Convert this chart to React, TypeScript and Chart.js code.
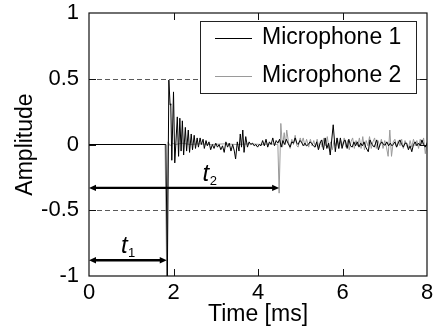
import React, { useEffect, useRef } from 'react';
import { Chart, registerables } from 'chart.js';

Chart.register(...registerables);

const FONT = '"Liberation Sans", Arial, Helvetica, sans-serif';

const xTickValues = [0, 2, 4, 6, 8];
const xTickLabels = ['0', '2', '4', '6', '8'];
const yTickValues = [-1, -0.5, 0, 0.5, 1];
const yTickLabels = ['-1', '-0.5', '0', '0.5', '1'];
const xTitle = 'Time [ms]';
const yTitle = 'Amplitude';
const seriesNames = ['Microphone 1', 'Microphone 2'];
const seriesColors = ['#000000', '#9a9a9a'];

const mic1Time = [
  0, 1.82, 1.855, 1.89, 1.92, 1.935, 1.96, 2.0, 2.03, 2.09,
  2.12, 2.15, 2.18, 2.21, 2.24, 2.28, 2.31, 2.35, 2.38, 2.42,
  2.45, 2.49, 2.52, 2.56, 2.59, 2.63, 2.66, 2.7, 2.73, 2.77,
  2.8, 2.84, 2.88, 2.92, 2.96, 3.0, 3.04, 3.08, 3.12, 3.16,
  3.2, 3.24, 3.28, 3.32, 3.36, 3.4, 3.44, 3.47, 3.51, 3.55,
  3.58, 3.61, 3.64, 3.67, 3.71, 3.75, 3.79, 3.83, 3.87, 3.91,
  3.95, 3.99, 4.03, 4.07, 4.11, 4.15, 4.19, 4.23, 4.27, 4.31,
  4.35, 4.39, 4.43, 4.47, 4.51, 4.55, 4.59, 4.63, 4.67, 4.71,
  4.76, 4.8, 4.84, 4.88, 4.92, 4.95, 4.99, 5.03, 5.07, 5.11,
  5.15, 5.19, 5.23, 5.27, 5.31, 5.35, 5.39, 5.43, 5.47, 5.51,
  5.55, 5.59, 5.63, 5.67, 5.71, 5.78, 5.83, 5.87, 5.91, 5.95,
  5.99, 6.03, 6.06, 6.11, 6.15, 6.19, 6.23, 6.27, 6.31, 6.35,
  6.39, 6.43, 6.47, 6.51, 6.55, 6.61, 6.65, 6.7, 6.75, 6.81,
  6.85, 6.89, 6.93, 6.97, 7.01, 7.05, 7.09, 7.13, 7.17, 7.2,
  7.24, 7.28, 7.32, 7.36, 7.4, 7.44, 7.48, 7.52, 7.56, 7.6,
  7.64, 7.68, 7.72, 7.76, 7.8, 7.84, 7.88, 7.92, 7.96, 8.0,
];
const mic1Amp = [
  0, 0, -1.0, 0.49, 0.3, 0.31, -0.12, 0.4, -0.14, 0.21,
  -0.09, 0.2, -0.05, 0.18, -0.08, 0.13, -0.05, 0.11, -0.06, 0.08,
  -0.04, 0.07, -0.03, 0.05, -0.02, 0.05, 0.0, 0.04, -0.03, 0.03,
  -0.01, 0.02, -0.04, 0.0, -0.03, 0.01, -0.02, 0.0, -0.04, -0.01,
  -0.06, 0.02, -0.02, 0.01, -0.05, 0.0, -0.05, -0.11, 0.02, -0.05,
  0.08, -0.02, 0.11, -0.06, 0.06, -0.02, 0.02, 0.0, 0.01, -0.01,
  0.0, -0.02, 0.0, -0.01, 0.03, -0.01, 0.04, -0.02, 0.02, 0.0,
  0.05, -0.01, 0.03, 0.01, 0.04, -0.02, 0.03, 0.0, 0.04, 0.01,
  -0.02, 0.02, 0.01, 0.05, 0.01, 0.0, 0.03, 0.02, -0.01, 0.01,
  -0.01, 0.0, 0.02, 0.01, -0.01, -0.02, 0.02, -0.04, 0.01, 0.035,
  -0.04, 0.05, -0.03, 0.01, -0.08, 0.15, -0.055, 0.05, -0.03, 0.05,
  -0.03, 0.02, 0.035, -0.03, 0.04, -0.01, -0.02, 0.02, -0.01, 0.02,
  -0.02, 0.01, -0.01, 0.02, -0.02, -0.055, 0.035, 0.0, -0.02, 0.035,
  -0.04, 0.0, 0.02, 0.0, -0.005, 0.02, -0.01, 0.01, -0.01, 0.0,
  0.02, -0.02, 0.01, 0.035, 0.0, -0.02, 0.01, 0.01, -0.04, -0.01,
  -0.055, 0.0, 0.02, -0.01, 0.01, -0.01, 0.035, 0.0, -0.02, 0.01,
];

const mic2Time = [
  0, 1.8, 1.84, 1.87, 1.92, 1.97, 2.05, 2.2, 2.4, 2.6,
  2.9, 3.2, 3.5, 3.8, 4.1, 4.3, 4.47, 4.5, 4.54, 4.58,
  4.62, 4.65, 4.68, 4.72, 4.76, 4.8, 4.84, 4.88, 4.92, 4.95,
  5.0, 5.03, 5.07, 5.11, 5.15, 5.2, 5.24, 5.28, 5.32, 5.36,
  5.4, 5.44, 5.48, 5.52, 5.56, 5.6, 5.64, 5.68, 5.72, 5.76,
  5.8, 5.84, 5.88, 5.92, 5.96, 6.0, 6.04, 6.08, 6.12, 6.16,
  6.2, 6.24, 6.28, 6.32, 6.36, 6.4, 6.44, 6.48, 6.52, 6.56,
  6.6, 6.64, 6.68, 6.72, 6.76, 6.8, 6.84, 6.88, 6.92, 6.96,
  7.0, 7.04, 7.08, 7.12, 7.16, 7.2, 7.24, 7.28, 7.32, 7.36,
  7.4, 7.44, 7.48, 7.52, 7.56, 7.6, 7.64, 7.68, 7.72, 7.76,
  7.8, 7.84, 7.88, 7.92, 7.96, 8.0,
];
const mic2Amp = [
  0, 0, -1.0, 0.02, -0.01, 0.01, 0.0, 0.01, 0.0, 0.005,
  0.0, 0.005, 0.0, 0.005, 0.0, 0.005, 0.0, -0.37, 0.16, -0.02,
  0.09, 0.0, 0.11, 0.02, -0.03, 0.04, 0.0, 0.07, -0.01, -0.02,
  0.05, 0.01, 0.05, -0.01, 0.04, -0.02, 0.04, -0.01, 0.03, -0.02,
  0.04, -0.03, 0.03, -0.02, 0.05, -0.01, 0.06, -0.03, 0.02, -0.04,
  0.03, -0.01, 0.05, -0.03, 0.03, -0.01, 0.05, -0.02, 0.03, -0.04,
  0.02, 0.05, -0.03, 0.03, -0.01, 0.05, -0.03, 0.06, -0.04, 0.03,
  -0.01, 0.06, -0.03, 0.02, 0.05, -0.03, 0.03, -0.01, 0.04, -0.03,
  0.03, -0.02, -0.09, 0.11, -0.09, 0.02, 0.04, -0.02, 0.03, -0.01,
  0.04, -0.03, 0.03, -0.01, -0.03, 0.03, -0.02, 0.04, -0.01, 0.03,
  -0.03, 0.04, 0.0, 0.05, -0.07, 0.02,
];

const dashedLevels = [0.5, -0.5];
const innerXTicks = [2, 4, 6];
const innerYTicks = [-0.5, 0, 0.5];
// arrows: end time, amplitude level, label x position, subscript
const arrowEnds = [1.84, 4.5];
const arrowLevels = [-0.88, -0.33];
const arrowLabelX = [0.92, 2.85];
const arrowSubs = ['1', '2'];

const decor = {
  id: 'decor',
  beforeDatasetsDraw(chart: any) {
    const { ctx, chartArea: a, scales } = chart;
    const y = scales.y;
    ctx.save();
    ctx.strokeStyle = '#5a5a5a';
    ctx.lineWidth = 1;
    ctx.setLineDash([5, 3]);
    dashedLevels.forEach((v) => {
      const py = Math.round(y.getPixelForValue(v)) + 0.5;
      ctx.beginPath();
      ctx.moveTo(a.left, py);
      ctx.lineTo(a.right, py);
      ctx.stroke();
    });
    ctx.restore();
  },
  afterDatasetsDraw(chart: any) {
    const { ctx, chartArea: a, scales } = chart;
    const x = scales.x;
    const y = scales.y;
    ctx.save();
    // frame
    ctx.strokeStyle = '#111';
    ctx.lineWidth = 1.2;
    ctx.strokeRect(a.left, a.top, a.right - a.left, a.bottom - a.top);
    // inner ticks
    ctx.lineWidth = 1;
    const tl = 7;
    innerXTicks.forEach((v) => {
      const px = Math.round(x.getPixelForValue(v)) + 0.5;
      ctx.beginPath();
      ctx.moveTo(px, a.bottom);
      ctx.lineTo(px, a.bottom - tl);
      ctx.moveTo(px, a.top);
      ctx.lineTo(px, a.top + tl);
      ctx.stroke();
    });
    innerYTicks.forEach((v) => {
      const py = Math.round(y.getPixelForValue(v)) + 0.5;
      ctx.beginPath();
      ctx.moveTo(a.left, py);
      ctx.lineTo(a.left + tl, py);
      ctx.moveTo(a.right, py);
      ctx.lineTo(a.right - tl, py);
      ctx.stroke();
    });
    // arrows
    ctx.fillStyle = '#000';
    ctx.strokeStyle = '#000';
    arrowEnds.forEach((end, i) => {
      const x0 = x.getPixelForValue(0);
      const x1 = x.getPixelForValue(end);
      const py = y.getPixelForValue(arrowLevels[i]);
      const hl = 7;
      const hw = 3.2;
      ctx.lineWidth = 2.4;
      ctx.beginPath();
      ctx.moveTo(x0 + hl - 1, py);
      ctx.lineTo(x1 - hl + 1, py);
      ctx.stroke();
      ctx.beginPath();
      ctx.moveTo(x0, py);
      ctx.lineTo(x0 + hl, py - hw);
      ctx.lineTo(x0 + hl, py + hw);
      ctx.closePath();
      ctx.fill();
      ctx.beginPath();
      ctx.moveTo(x1, py);
      ctx.lineTo(x1 - hl, py - hw);
      ctx.lineTo(x1 - hl, py + hw);
      ctx.closePath();
      ctx.fill();
      // label
      const cx = x.getPixelForValue(arrowLabelX[i]);
      const base = py - 7;
      ctx.font = 'italic 24px ' + FONT;
      const tw = ctx.measureText('t').width;
      ctx.font = '13px ' + FONT;
      const sw = ctx.measureText(arrowSubs[i]).width;
      const left = cx - (tw + sw) / 2;
      ctx.textAlign = 'left';
      ctx.textBaseline = 'alphabetic';
      ctx.font = 'italic 24px ' + FONT;
      ctx.fillText('t', left, base);
      ctx.font = '13px ' + FONT;
      ctx.fillText(arrowSubs[i], left + tw + 0.5, base + 4);
    });
    // legend
    const lw = 216;
    const lh = 72;
    const lx = a.right - 11 - lw;
    const ly = a.top + 8;
    ctx.fillStyle = '#fff';
    ctx.fillRect(lx, ly, lw, lh);
    ctx.strokeStyle = '#222';
    ctx.lineWidth = 1;
    ctx.strokeRect(Math.round(lx) + 0.5, Math.round(ly) + 0.5, lw, lh);
    seriesNames.forEach((name, i) => {
      const ry = ly + 17 + i * 38;
      ctx.strokeStyle = seriesColors[i];
      ctx.lineWidth = 1;
      ctx.beginPath();
      ctx.moveTo(lx + 15, ry + 0.5);
      ctx.lineTo(lx + 52, ry + 0.5);
      ctx.stroke();
      ctx.fillStyle = '#000';
      ctx.font = '23px ' + FONT;
      ctx.textAlign = 'left';
      ctx.textBaseline = 'middle';
      ctx.fillText(name, lx + 62, ry);
    });
    ctx.restore();
  },
};

export default function App() {
  const ref = useRef<HTMLCanvasElement>(null);
  useEffect(() => {
    if (!ref.current) return;
    const mk = (t: number[], v: number[]) => t.map((tt, i) => ({ x: tt, y: v[i] }));
    const chart = new Chart(ref.current, {
      type: 'line',
      data: {
        datasets: [
          {
            label: seriesNames[0],
            data: mk(mic1Time, mic1Amp),
            borderColor: seriesColors[0],
            borderWidth: 1,
            pointRadius: 0,
            tension: 0,
          },
          {
            label: seriesNames[1],
            data: mk(mic2Time, mic2Amp),
            borderColor: seriesColors[1],
            borderWidth: 1,
            pointRadius: 0,
            tension: 0,
          },
        ],
      },
      options: {
        responsive: false,
        animation: false,
        events: [],
        layout: { padding: { top: 13, right: 18, left: 0, bottom: 0 } },
        plugins: { legend: { display: false }, tooltip: { enabled: false } },
        scales: {
          x: {
            type: 'linear',
            min: 0,
            max: 8,
            grid: { display: false, drawTicks: false },
            border: { display: false },
            afterBuildTicks: (s: any) => { s.ticks = xTickValues.map((v) => ({ value: v })); },
            ticks: {
              padding: 4,
              color: '#000',
              font: { family: FONT, size: 22 },
              maxRotation: 0,
              callback: (v: any) => xTickLabels[xTickValues.indexOf(Number(v))] ?? '',
            },
            title: {
              display: true,
              text: xTitle,
              color: '#000',
              font: { family: FONT, size: 23, lineHeight: 1 },
              padding: { top: 0, bottom: 7 },
            },
            afterFit: (s: any) => {
              s.height = 57;
              s.paddingLeft = 0;
              s.paddingRight = 0;
            },
          },
          y: {
            type: 'linear',
            min: -1,
            max: 1,
            grid: { display: false, drawTicks: false },
            border: { display: false },
            afterBuildTicks: (s: any) => { s.ticks = yTickValues.map((v) => ({ value: v })); },
            ticks: {
              padding: 10,
              color: '#000',
              font: { family: FONT, size: 22 },
              callback: (v: any) => yTickLabels[yTickValues.indexOf(Number(v))] ?? '',
            },
            title: {
              display: true,
              text: yTitle,
              color: '#000',
              font: { family: FONT, size: 23, lineHeight: 1 },
              padding: { top: 14.5, bottom: 0 },
            },
            afterFit: (s: any) => {
              s.width = 89;
              s.paddingTop = 0;
              s.paddingBottom = 0;
            },
          },
        },
      },
      plugins: [decor],
    });
    return () => chart.destroy();
  }, []);
  return (
    <div style={{ position: 'fixed', left: 0, top: 0, width: 445, height: 333, background: '#fff' }}>
      <canvas ref={ref} width={445} height={333} style={{ display: 'block' }} />
    </div>
  );
}
